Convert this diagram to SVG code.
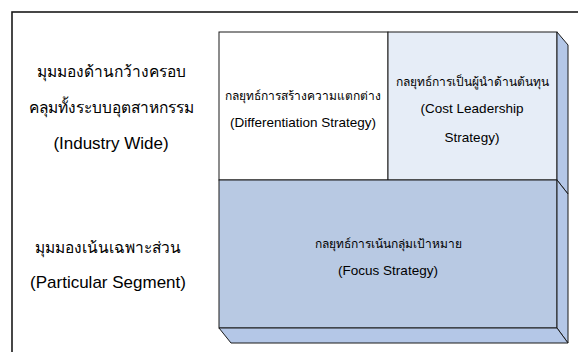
<svg xmlns="http://www.w3.org/2000/svg" width="578" height="352" viewBox="0 0 578 352">
<style>
.frame{fill:#ffffff;stroke:#1a1a1a;stroke-width:1.6}
.box{stroke:#1a1a1a;stroke-width:1}
.side{fill:#b4c7e7;stroke:#1a1a1a;stroke-width:1;stroke-linejoin:miter}
.lbl{font-family:"Liberation Sans","Noto Sans",sans-serif;font-size:15.5px;fill:#000;text-anchor:middle}
.lbl-en{font-family:"Liberation Sans","Noto Sans",sans-serif;font-size:17px;fill:#000;text-anchor:middle}
.txt{font-family:"Liberation Sans","Noto Sans",sans-serif;font-size:12px;fill:#000;text-anchor:middle}
.txt-en{font-family:"Liberation Sans","Noto Sans",sans-serif;font-size:13.5px;fill:#000;text-anchor:middle}
</style>
<rect class="frame" x="12" y="12" width="620" height="400"/>
<g id="label-industry-wide">
<text class="lbl" x="111" y="77">มุมมองด้านกว้างครอบ</text>
<text class="lbl" x="111" y="113">คลุมทั้งระบบอุตสาหกรรม</text>
<text class="lbl-en" x="111" y="149">(Industry Wide)</text>
</g>
<g id="label-particular-segment">
<text class="lbl" x="108" y="253">มุมมองเน้นเฉพาะส่วน</text>
<text class="lbl-en" x="108" y="288">(Particular Segment)</text>
</g>
<g id="node-differentiation">
<rect class="box" x="219" y="32" width="169" height="148" fill="#ffffff"/>
<text class="txt" x="303" y="100">กลยุทธ์การสร้างความแตกต่าง</text>
<text class="txt-en" x="303" y="127">(Differentiation Strategy)</text>
</g>
<g id="node-cost-leadership">
<rect class="box" x="388" y="32" width="169" height="148" fill="#e6edf7"/>
<polygon class="side" points="557,32 568,45 568,194 557,180"/>
<text class="txt" x="472" y="86">กลยุทธ์การเป็นผู้นำด้านต้นทุน</text>
<text class="txt-en" x="472" y="113">(Cost Leadership</text>
<text class="txt-en" x="472" y="142">Strategy)</text>
</g>
<g id="node-focus">
<rect class="box" x="219" y="180" width="338" height="148" fill="#b8c9e3"/>
<polygon class="side" points="557,180 568,194 568,343 557,328"/>
<polygon class="side" points="219,328 557,328 568,343 231,343"/>
<text class="txt" x="388" y="248">กลยุทธ์การเน้นกลุ่มเป้าหมาย</text>
<text class="txt-en" x="388" y="275">(Focus Strategy)</text>
</g>
<g id="connectors"/>
</svg>
